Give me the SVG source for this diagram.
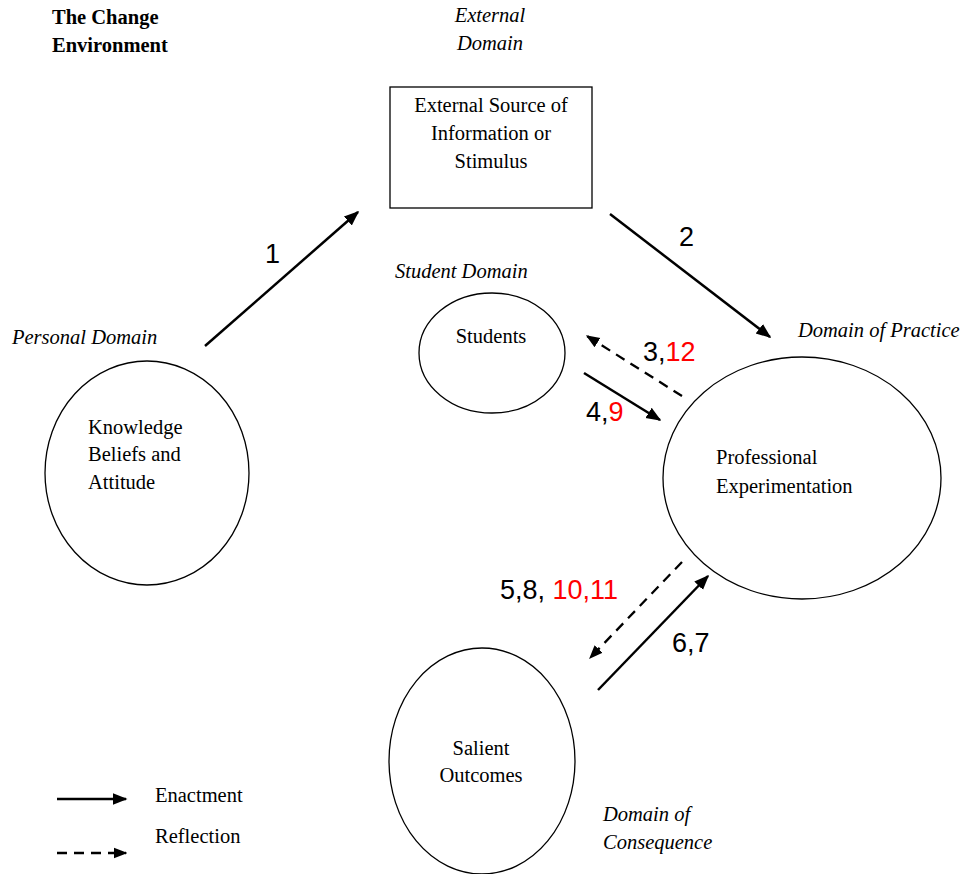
<svg xmlns="http://www.w3.org/2000/svg" width="969" height="874" viewBox="0 0 969 874">
<style>
.t{font-family:"Liberation Serif","Times New Roman",serif;font-size:20.5px;fill:#000}
.i{font-style:italic}
.b{font-weight:bold}
.n{font-family:"Liberation Sans",Arial,sans-serif;font-size:27px;fill:#000}
.r{fill:#ff0000}
.node{fill:#fff;stroke:#000;stroke-width:1.3}
.en{stroke:#000;stroke-width:2.5;fill:none;marker-end:url(#ah)}
.re{stroke:#000;stroke-width:2.3;fill:none;stroke-dasharray:10,7;marker-end:url(#ah)}
</style>
<defs>
<marker id="ah" viewBox="0 0 10 10" refX="9" refY="5" markerWidth="6" markerHeight="6" markerUnits="strokeWidth" orient="auto">
<path d="M0,1 L10,5 L0,9 z" fill="#000"/>
</marker>
</defs>
<rect width="969" height="874" fill="#fff"/>
<g id="title">
<text class="t b" x="52" y="24">The Change</text>
<text class="t b" x="52" y="52">Environment</text>
</g>
<g id="labels">
<text class="t i" x="490" y="22" text-anchor="middle">External</text>
<text class="t i" x="490" y="50" text-anchor="middle">Domain</text>
<text class="t i" x="395" y="278">Student Domain</text>
<text class="t i" x="12" y="344">Personal Domain</text>
<text class="t i" x="798" y="337">Domain of Practice</text>
<text class="t i" x="603" y="821">Domain of</text>
<text class="t i" x="603" y="849">Consequence</text>
</g>
<g id="external-source">
<rect class="node" x="390" y="87" width="202" height="121"/>
<text class="t" x="491" y="112" text-anchor="middle">External Source of</text>
<text class="t" x="491" y="140" text-anchor="middle">Information or</text>
<text class="t" x="491" y="168" text-anchor="middle">Stimulus</text>
</g>
<g id="knowledge">
<ellipse class="node" cx="147" cy="473" rx="102" ry="112"/>
<text class="t" x="88" y="434">Knowledge</text>
<text class="t" x="88" y="461">Beliefs and</text>
<text class="t" x="88" y="489">Attitude</text>
</g>
<g id="students">
<ellipse class="node" cx="492" cy="353" rx="73" ry="60"/>
<text class="t" x="491" y="343" text-anchor="middle">Students</text>
</g>
<g id="professional">
<ellipse class="node" cx="802" cy="478" rx="139" ry="121"/>
<text class="t" x="716" y="464">Professional</text>
<text class="t" x="716" y="493">Experimentation</text>
</g>
<g id="salient">
<ellipse class="node" cx="482" cy="761" rx="93" ry="113"/>
<text class="t" x="481" y="755" text-anchor="middle">Salient</text>
<text class="t" x="481" y="782" text-anchor="middle">Outcomes</text>
</g>
<g id="connectors">
<line class="en" x1="205" y1="346" x2="358" y2="212"/>
<line class="en" x1="610" y1="214" x2="770" y2="337"/>
<line class="re" x1="682" y1="396" x2="587" y2="336"/>
<line class="en" x1="584" y1="373" x2="660" y2="420"/>
<line class="re" x1="682" y1="562" x2="590" y2="658"/>
<line class="en" x1="598" y1="690" x2="708" y2="576"/>
<line class="en" x1="57" y1="799" x2="126" y2="799"/>
<line class="re" x1="57" y1="853" x2="126" y2="853"/>
</g>
<g id="connector-labels">
<text class="n" x="265" y="263">1</text>
<text class="n" x="679" y="246">2</text>
<text class="n" x="643" y="361">3,<tspan class="r">12</tspan></text>
<text class="n" x="586" y="421">4,<tspan class="r">9</tspan></text>
<text class="n" x="500" y="599">5,8, <tspan class="r">10,11</tspan></text>
<text class="n" x="672" y="652">6,7</text>
</g>
<g id="legend">
<text class="t" x="155" y="802">Enactment</text>
<text class="t" x="155" y="843">Reflection</text>
</g>
</svg>
